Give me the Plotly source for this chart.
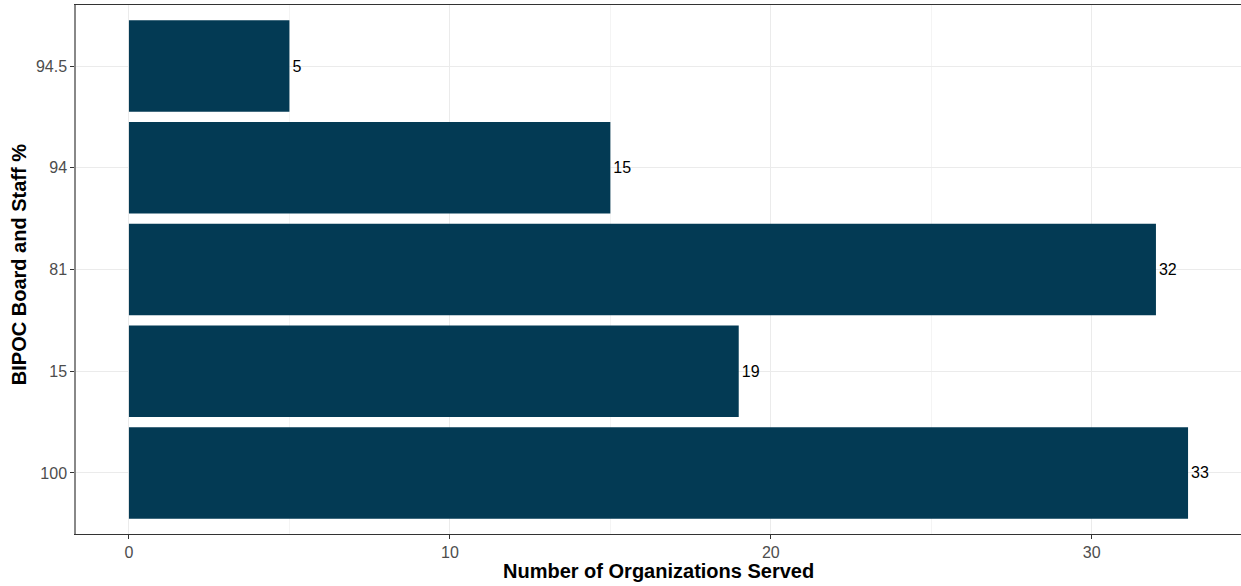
import plotly.graph_objects as go

categories = ["100", "15", "81", "94", "94.5"]
values = [33, 19, 32, 15, 5]
x_ticks = [0, 10, 20, 30]

bar_color = "#033A54"
FONT = "Liberation Sans, Arial, sans-serif"

fig = go.Figure(
    go.Bar(
        x=values,
        y=categories,
        orientation="h",
        width=0.9,
        marker=dict(color=bar_color, line=dict(width=0)),
        text=[str(v) for v in values],
        textposition="outside",
        textfont=dict(family=FONT, size=16, color="black"),
        cliponaxis=False,
    )
)

fig.update_layout(
    width=1241,
    height=586,
    margin=dict(l=76, r=0, t=5, b=52, autoexpand=False),
    plot_bgcolor="white",
    paper_bgcolor="white",
    showlegend=False,
    font=dict(family=FONT, size=16, color="#4D4D4D"),
    annotations=[
        dict(
            text="<b>Number of Organizations Served</b>",
            xref="paper", yref="paper",
            x=0.5, y=-0.07,
            xanchor="center", yanchor="middle",
            showarrow=False,
            font=dict(family=FONT, size=20, color="black"),
        ),
        dict(
            text="<b>BIPOC Board and Staff %</b>",
            xref="paper", yref="paper",
            x=-0.049, y=0.51,
            xanchor="center", yanchor="middle",
            textangle=-90,
            showarrow=False,
            font=dict(family=FONT, size=20, color="black"),
        ),
    ],
)

fig.update_xaxes(
    range=[-1.65, 34.65],
    tickvals=x_ticks,
    ticktext=[str(t) for t in x_ticks],
    automargin=False,
    showgrid=True,
    gridcolor="#EBEBEB",
    gridwidth=1,
    minor=dict(dtick=5, tick0=0, showgrid=True, gridcolor="#F4F4F4", gridwidth=0.6),
    zeroline=False,
    showline=True,
    linecolor="#333333",
    linewidth=1,
    mirror=True,
    ticks="outside",
    ticklen=4,
    tickcolor="#333333",
    tickfont=dict(family=FONT, size=16, color="#4D4D4D"),
)

fig.update_yaxes(
    type="category",
    categoryorder="array",
    categoryarray=categories,
    range=[-0.6, 4.6],
    automargin=False,
    showgrid=True,
    gridcolor="#EBEBEB",
    gridwidth=1,
    zeroline=False,
    showline=True,
    linecolor="#888888",
    linewidth=1.5,
    mirror=True,
    ticks="outside",
    ticklen=4,
    tickcolor="#333333",
    tickfont=dict(family=FONT, size=16, color="#4D4D4D"),
)

fig.write_html(
    "out.html",
    config={"displayModeBar": False},
    post_script="document.body.style.margin='0';document.body.style.overflow='hidden';",
)
